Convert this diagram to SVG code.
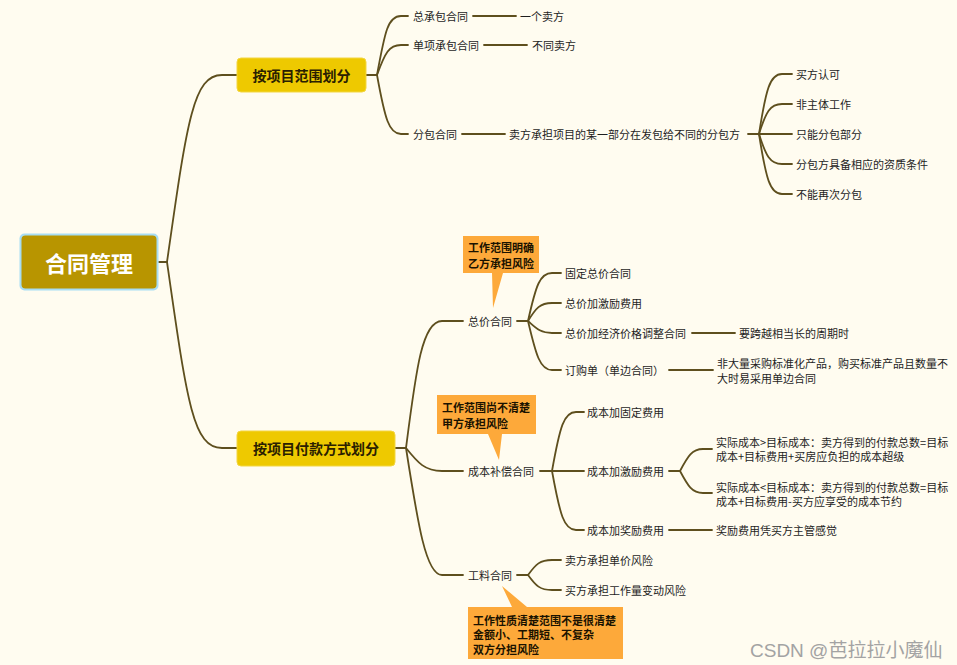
<svg xmlns="http://www.w3.org/2000/svg" width="957" height="665" viewBox="0 0 957 665">
<style>
text{font-family:"Noto Sans CJK SC","Liberation Sans",sans-serif;dominant-baseline:central}
.leaf{font-size:11px;fill:#1e1e1e}
.l1{font-size:14px;font-weight:bold;fill:#2a2000}
.root{font-size:22px;font-weight:bold;fill:#ffffff}
.note{font-size:11px;font-weight:bold;fill:#1a1200}
.con path{fill:none;stroke:#5e4f1e;stroke-width:1.8;stroke-linecap:round}
.l1box{fill:#eec900;stroke:#f3d640;stroke-width:1}
.callout{fill:#fda93a}
</style>
<rect x="0" y="0" width="957" height="665" fill="#fffcf0"/>

<g id="connectors" class="con">
<path d="M159,262 H167 C187,122 193,75 222,75 H237"/>
<path d="M167,262 C187,402 193,448 222,448 H237"/>
<path d="M366,75 H377"/>
<path d="M377,75 C385,31 388,16 401,16 H408"/>
<path d="M377,75 C385,53 389,45 401,45 H408"/>
<path d="M377,75 C385,119 389,134 401,134 H408"/>
<path d="M473,16 H516"/>
<path d="M484,45 H527"/>
<path d="M462,134 H505"/>
<path d="M748,134 H759"/>
<path d="M759,134 C766,89 770,74 782,74 H792"/>
<path d="M759,134 C766,112 770,104 782,104 H792"/>
<path d="M759,134 H792"/>
<path d="M759,134 C766,156 770,164 782,164 H792"/>
<path d="M759,134 C766,179 770,194 782,194 H792"/>
<path d="M395,448 H406"/>
<path d="M406,448 C416,370 422,321 442,321 H463"/>
<path d="M406,448 C418,463 425,471 442,471 H463"/>
<path d="M406,448 C418,525 426,575 442,575 H463"/>
<path d="M517,321 H528"/>
<path d="M528,321 C536,285 540,273 552,273 H561"/>
<path d="M528,321 C536,308 540,303 552,303 H561"/>
<path d="M528,321 C536,328 540,333 552,333 H561"/>
<path d="M528,321 C536,355 540,370 552,370 H561"/>
<path d="M692,333 H735"/>
<path d="M669,370 H713"/>
<path d="M540,471 H552"/>
<path d="M552,471 C560,426 564,412 576,412 H584"/>
<path d="M552,471 H584"/>
<path d="M552,471 C560,515 564,530 576,530 H584"/>
<path d="M669,471 H680"/>
<path d="M680,471 C688,456 692,449 703,449 H712"/>
<path d="M680,471 C688,486 692,493 703,493 H712"/>
<path d="M669,530 H712"/>
<path d="M517,575 H528"/>
<path d="M528,575 C536,564 540,560 552,560 H561"/>
<path d="M528,575 C536,586 540,590 552,590 H561"/>
</g>

<g id="root">
<rect x="19.5" y="233.5" width="139" height="57" rx="5" fill="#a8ddf3"/>
<rect x="21.5" y="235.5" width="135" height="53" rx="4" fill="#b89500"/>
<text class="root" x="89" y="262" text-anchor="middle">合同管理</text>
</g>

<g id="n-scope">
<rect class="l1box" x="237" y="58" width="129" height="34" rx="4"/>
<text class="l1" x="301.5" y="75" text-anchor="middle">按项目范围划分</text>
</g>
<g id="n-payment">
<rect class="l1box" x="237" y="431" width="158" height="35" rx="4"/>
<text class="l1" x="316" y="448" text-anchor="middle">按项目付款方式划分</text>
</g>

<g id="n-general"><text class="leaf" x="413" y="16">总承包合同</text></g>
<g id="n-general-1"><text class="leaf" x="520" y="16">一个卖方</text></g>
<g id="n-single"><text class="leaf" x="413" y="45">单项承包合同</text></g>
<g id="n-single-1"><text class="leaf" x="532" y="45">不同卖方</text></g>
<g id="n-sub"><text class="leaf" x="413" y="134">分包合同</text></g>
<g id="n-sub-1"><text class="leaf" x="509" y="134">卖方承担项目的某一部分在发包给不同的分包方</text></g>
<g id="n-sub-a"><text class="leaf" x="796" y="74">买方认可</text></g>
<g id="n-sub-b"><text class="leaf" x="796" y="104">非主体工作</text></g>
<g id="n-sub-c"><text class="leaf" x="796" y="134">只能分包部分</text></g>
<g id="n-sub-d"><text class="leaf" x="796" y="164">分包方具备相应的资质条件</text></g>
<g id="n-sub-e"><text class="leaf" x="796" y="194">不能再次分包</text></g>

<g id="n-fixed"><text class="leaf" x="468" y="321">总价合同</text></g>
<g id="n-fixed-1"><text class="leaf" x="565" y="273">固定总价合同</text></g>
<g id="n-fixed-2"><text class="leaf" x="565" y="303">总价加激励费用</text></g>
<g id="n-fixed-3"><text class="leaf" x="565" y="333">总价加经济价格调整合同</text></g>
<g id="n-fixed-3a"><text class="leaf" x="739" y="333">要跨越相当长的周期时</text></g>
<g id="n-fixed-4"><text class="leaf" x="565" y="370">订购单（单边合同）</text></g>
<g id="n-fixed-4a"><text class="leaf" x="717" y="363">非大量采购标准化产品，购买标准产品且数量不</text><text class="leaf" x="717" y="377.5">大时易采用单边合同</text></g>

<g id="n-cost"><text class="leaf" x="468" y="471">成本补偿合同</text></g>
<g id="n-cost-1"><text class="leaf" x="587" y="412">成本加固定费用</text></g>
<g id="n-cost-2"><text class="leaf" x="587" y="471">成本加激励费用</text></g>
<g id="n-cost-2a"><text class="leaf" x="716" y="441.5">实际成本&gt;目标成本：卖方得到的付款总数=目标</text><text class="leaf" x="716" y="456">成本+目标费用+买房应负担的成本超级</text></g>
<g id="n-cost-2b"><text class="leaf" x="716" y="486.5">实际成本&lt;目标成本：卖方得到的付款总数=目标</text><text class="leaf" x="716" y="501">成本+目标费用-买方应享受的成本节约</text></g>
<g id="n-cost-3"><text class="leaf" x="587" y="530">成本加奖励费用</text></g>
<g id="n-cost-3a"><text class="leaf" x="716" y="530">奖励费用凭买方主管感觉</text></g>

<g id="n-tm"><text class="leaf" x="468" y="575">工料合同</text></g>
<g id="n-tm-1"><text class="leaf" x="565" y="560">卖方承担单价风险</text></g>
<g id="n-tm-2"><text class="leaf" x="565" y="590">买方承担工作量变动风险</text></g>

<g id="callout-fixed">
<path class="callout" d="M463,236 H539 V273 H503 L493,308 L492,273 H463 Z"/>
<text class="note" x="468" y="246.5">工作范围明确</text>
<text class="note" x="468" y="262.5">乙方承担风险</text>
</g>
<g id="callout-cost">
<path class="callout" d="M437,395 H536 V434 H502 L499,460 L488,434 H437 Z"/>
<text class="note" x="442" y="407">工作范围尚不清楚</text>
<text class="note" x="442" y="422.5">甲方承担风险</text>
</g>
<g id="callout-tm">
<path class="callout" d="M468,607 H512 L502,586 L527,607 H623 V659 H468 Z"/>
<text class="note" x="473" y="619.5">工作性质清楚范围不是很清楚</text>
<text class="note" x="473" y="634">金额小、工期短、不复杂</text>
<text class="note" x="473" y="648.5">双方分担风险</text>
</g>

<text x="750" y="650" font-size="19" fill="#a3a3a3" style="font-family:'Liberation Sans','Noto Sans CJK SC',sans-serif">CSDN @芭拉拉小魔仙</text>
</svg>
